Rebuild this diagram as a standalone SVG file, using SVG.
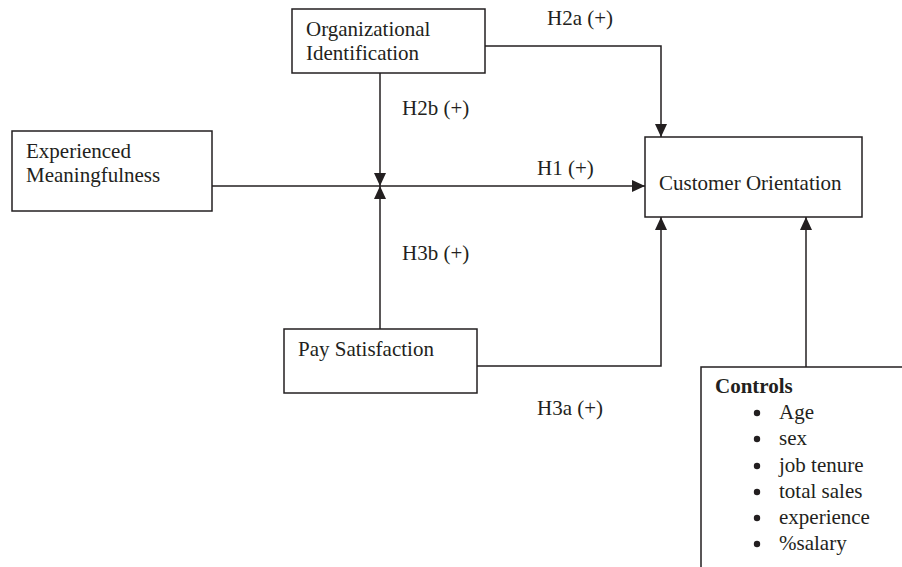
<svg xmlns="http://www.w3.org/2000/svg" width="902" height="567" viewBox="0 0 902 567">
<defs>
<style>
.box{fill:#fff;stroke:#231f20;stroke-width:1.5}
.ln{fill:none;stroke:#231f20;stroke-width:1.5}
text{font-family:"Liberation Serif","Times New Roman",serif;font-size:21px;fill:#231f20}
.b{font-weight:bold}
</style>
<marker id="ah" markerWidth="13" markerHeight="12" refX="13" refY="6" orient="auto" markerUnits="userSpaceOnUse">
<path d="M0,0 L13,6 L0,12 Z" fill="#231f20"/>
</marker>
</defs>
<rect width="902" height="567" fill="#fff"/>
<g id="connectors">
<path class="ln" d="M485,46 H661 V137" marker-end="url(#ah)"/>
<path class="ln" d="M380,73 V186" marker-end="url(#ah)"/>
<path class="ln" d="M380,329 V186" marker-end="url(#ah)"/>
<path class="ln" d="M212,186 H645" marker-end="url(#ah)"/>
<path class="ln" d="M477,366 H661 V217" marker-end="url(#ah)"/>
<path class="ln" d="M806,367 V217" marker-end="url(#ah)"/>
<text x="547" y="25">H2a (+)</text>
<text x="402" y="115">H2b (+)</text>
<text x="537" y="175">H1 (+)</text>
<text x="402" y="260">H3b (+)</text>
<text x="537" y="415">H3a (+)</text>
</g>
<g id="org-identification">
<rect class="box" x="292" y="9" width="193" height="64"/>
<text x="306" y="36">Organizational</text>
<text x="306" y="60">Identification</text>
</g>
<g id="experienced-meaningfulness">
<rect class="box" x="12" y="131" width="200" height="80"/>
<text x="26" y="158">Experienced</text>
<text x="26" y="182">Meaningfulness</text>
</g>
<g id="customer-orientation">
<rect class="box" x="645" y="137" width="217" height="80"/>
<text x="659" y="190">Customer Orientation</text>
</g>
<g id="pay-satisfaction">
<rect class="box" x="284" y="329" width="193" height="64"/>
<text x="298" y="356">Pay Satisfaction</text>
</g>
<g id="controls">
<rect class="box" x="701" y="367" width="210" height="220"/>
<text class="b" x="715" y="393">Controls</text>
<g fill="#231f20">
<circle cx="757" cy="413" r="3.2"/>
<circle cx="757" cy="439" r="3.2"/>
<circle cx="757" cy="466" r="3.2"/>
<circle cx="757" cy="492" r="3.2"/>
<circle cx="757" cy="518" r="3.2"/>
<circle cx="757" cy="544" r="3.2"/>
</g>
<text x="779" y="419">Age</text>
<text x="779" y="445">sex</text>
<text x="779" y="472">job tenure</text>
<text x="779" y="498">total sales</text>
<text x="779" y="524">experience</text>
<text x="779" y="550">%salary</text>
</g>
</svg>
